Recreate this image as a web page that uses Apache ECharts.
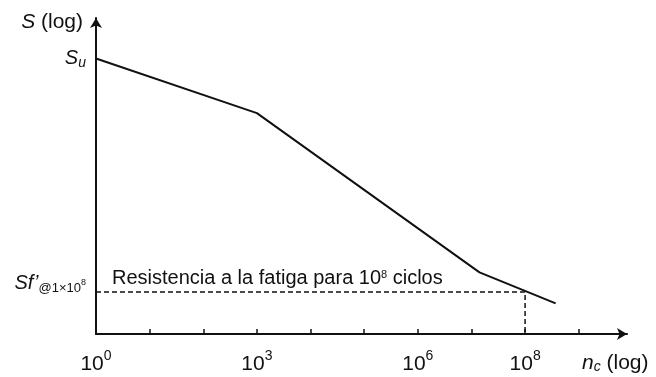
<!DOCTYPE html>
<html>
<head>
<meta charset="utf-8">
<script src="https://cdn.jsdelivr.net/npm/echarts@6/dist/echarts.min.js"></script>
<style>
  html, body { margin: 0; padding: 0; background: #fff; }
  #chart { width: 656px; height: 377px; }
</style>
</head>
<body>
<div id="chart"></div>
<script>
// S-N (Wöhler) curve, both axes in decades: x = log10(cycles), y = log10(stress) in arbitrary units
const cycleExp = [0, 3, 7.15, 8.57];
const logStress = [8.72, 6.99, 1.95, 0.97];

// Reference levels
const suLevel = 8.72;      // S_u
const sfLevel = 1.33;      // S_f' at 10^8 cycles
const sfCycleExp = 8;

// Axis ticks (decades) and labelled decades
const decadeTicks = [0, 1, 2, 3, 4, 5, 6, 7, 8, 9];
const labelledDecades = [0, 3, 6, 8];

const ink = '#111';
const font = '"Liberation Sans", Arial, sans-serif';

const curve = cycleExp.map((x, i) => [x, logStress[i]]);
const fatigueGuide = [
  {
    value: [0, sfLevel],
    label: {
      show: true,
      position: 'right',
      distance: 0,
      offset: [16, -13],
      formatter: 'Resistencia a la fatiga para 10{sup|8} ciclos',
      color: ink,
      fontFamily: font,
      fontSize: 20,
      rich: {
        sup: { fontSize: 11, verticalAlign: 'top', fontFamily: font, color: ink, lineHeight: 20 }
      }
    }
  },
  [sfCycleExp, sfLevel],
  [sfCycleExp, 0]
];

const chart = echarts.init(document.getElementById('chart'), null, { renderer: 'canvas' });

chart.setOption({
  animation: false,
  backgroundColor: '#fff',
  grid: { left: 96, right: 29, top: 18, bottom: 43 },
  xAxis: {
    type: 'value',
    min: 0,
    max: 9.9,
    name: '{i|n}{isub|c} (log)',
    nameLocation: 'end',
    nameGap: -45,
    nameTextStyle: {
      color: ink,
      fontFamily: font,
      fontSize: 21,
      align: 'left',
      verticalAlign: 'top',
      padding: [19, 0, 0, 0],
      rich: {
        i: { fontStyle: 'italic', fontSize: 21, fontFamily: font, color: ink },
        isub: { fontStyle: 'italic', fontSize: 14, fontFamily: font, color: ink, verticalAlign: 'bottom' }
      }
    },
    splitLine: { show: false },
    axisLine: {
      show: true,
      symbol: ['none', 'arrow'],
      symbolSize: [9, 10],
      lineStyle: { color: ink, width: 2 }
    },
    axisTick: {
      show: true,
      inside: true,
      length: 5,
      customValues: decadeTicks,
      lineStyle: { color: ink, width: 1.5 }
    },
    axisLabel: {
      show: true,
      customValues: labelledDecades,
      margin: 15,
      color: ink,
      fontFamily: font,
      fontSize: 21,
      formatter: v => '{b|10}{sup|' + v + '}',
      rich: {
        b: { fontSize: 21, fontFamily: font, color: ink, lineHeight: 26, verticalAlign: 'bottom' },
        sup: { fontSize: 14, fontFamily: font, color: ink, verticalAlign: 'top', lineHeight: 16 }
      }
    }
  },
  yAxis: {
    type: 'value',
    min: 0,
    max: 10,
    name: '{i|S} (log)',
    nameLocation: 'end',
    nameGap: -4,
    nameTextStyle: {
      color: ink,
      fontFamily: font,
      fontSize: 21,
      align: 'right',
      verticalAlign: 'middle',
      padding: [0, 13, 0, 0],
      rich: {
        i: { fontStyle: 'italic', fontSize: 21, fontFamily: font, color: ink }
      }
    },
    splitLine: { show: false },
    axisLine: {
      show: true,
      symbol: ['none', 'arrow'],
      symbolSize: [9, 10],
      lineStyle: { color: ink, width: 2 }
    },
    axisTick: { show: false },
    axisLabel: {
      show: true,
      customValues: [sfLevel, suLevel],
      margin: 10,
      color: ink,
      fontFamily: font,
      formatter: v => v === suLevel
        ? '{s|S}{sub|u}'
        : '{s|Sf’}{sm|@1×10}{tiny|8}\n{gap| }',
      rich: {
        s: { fontStyle: 'italic', fontSize: 20, fontFamily: font, color: ink, lineHeight: 24 },
        sub: { fontStyle: 'italic', fontSize: 14, fontFamily: font, color: ink, verticalAlign: 'bottom', lineHeight: 24 },
        sm: { fontSize: 13, fontFamily: font, color: ink, verticalAlign: 'bottom', lineHeight: 24 },
        tiny: { fontSize: 9, fontFamily: font, color: ink, verticalAlign: 'middle', lineHeight: 24 },
        gap: { fontSize: 10, lineHeight: 18 }
      }
    }
  },
  series: [
    {
      type: 'line',
      data: curve,
      symbol: 'none',
      clip: false,
      lineStyle: { color: ink, width: 2 }
    },
    {
      type: 'line',
      data: fatigueGuide,
      symbol: 'circle',
      symbolSize: 0,
      showSymbol: true,
      clip: false,
      itemStyle: { color: ink },
      lineStyle: { color: ink, width: 1.5, type: [5, 3] }
    }
  ]
});
</script>
</body>
</html>
